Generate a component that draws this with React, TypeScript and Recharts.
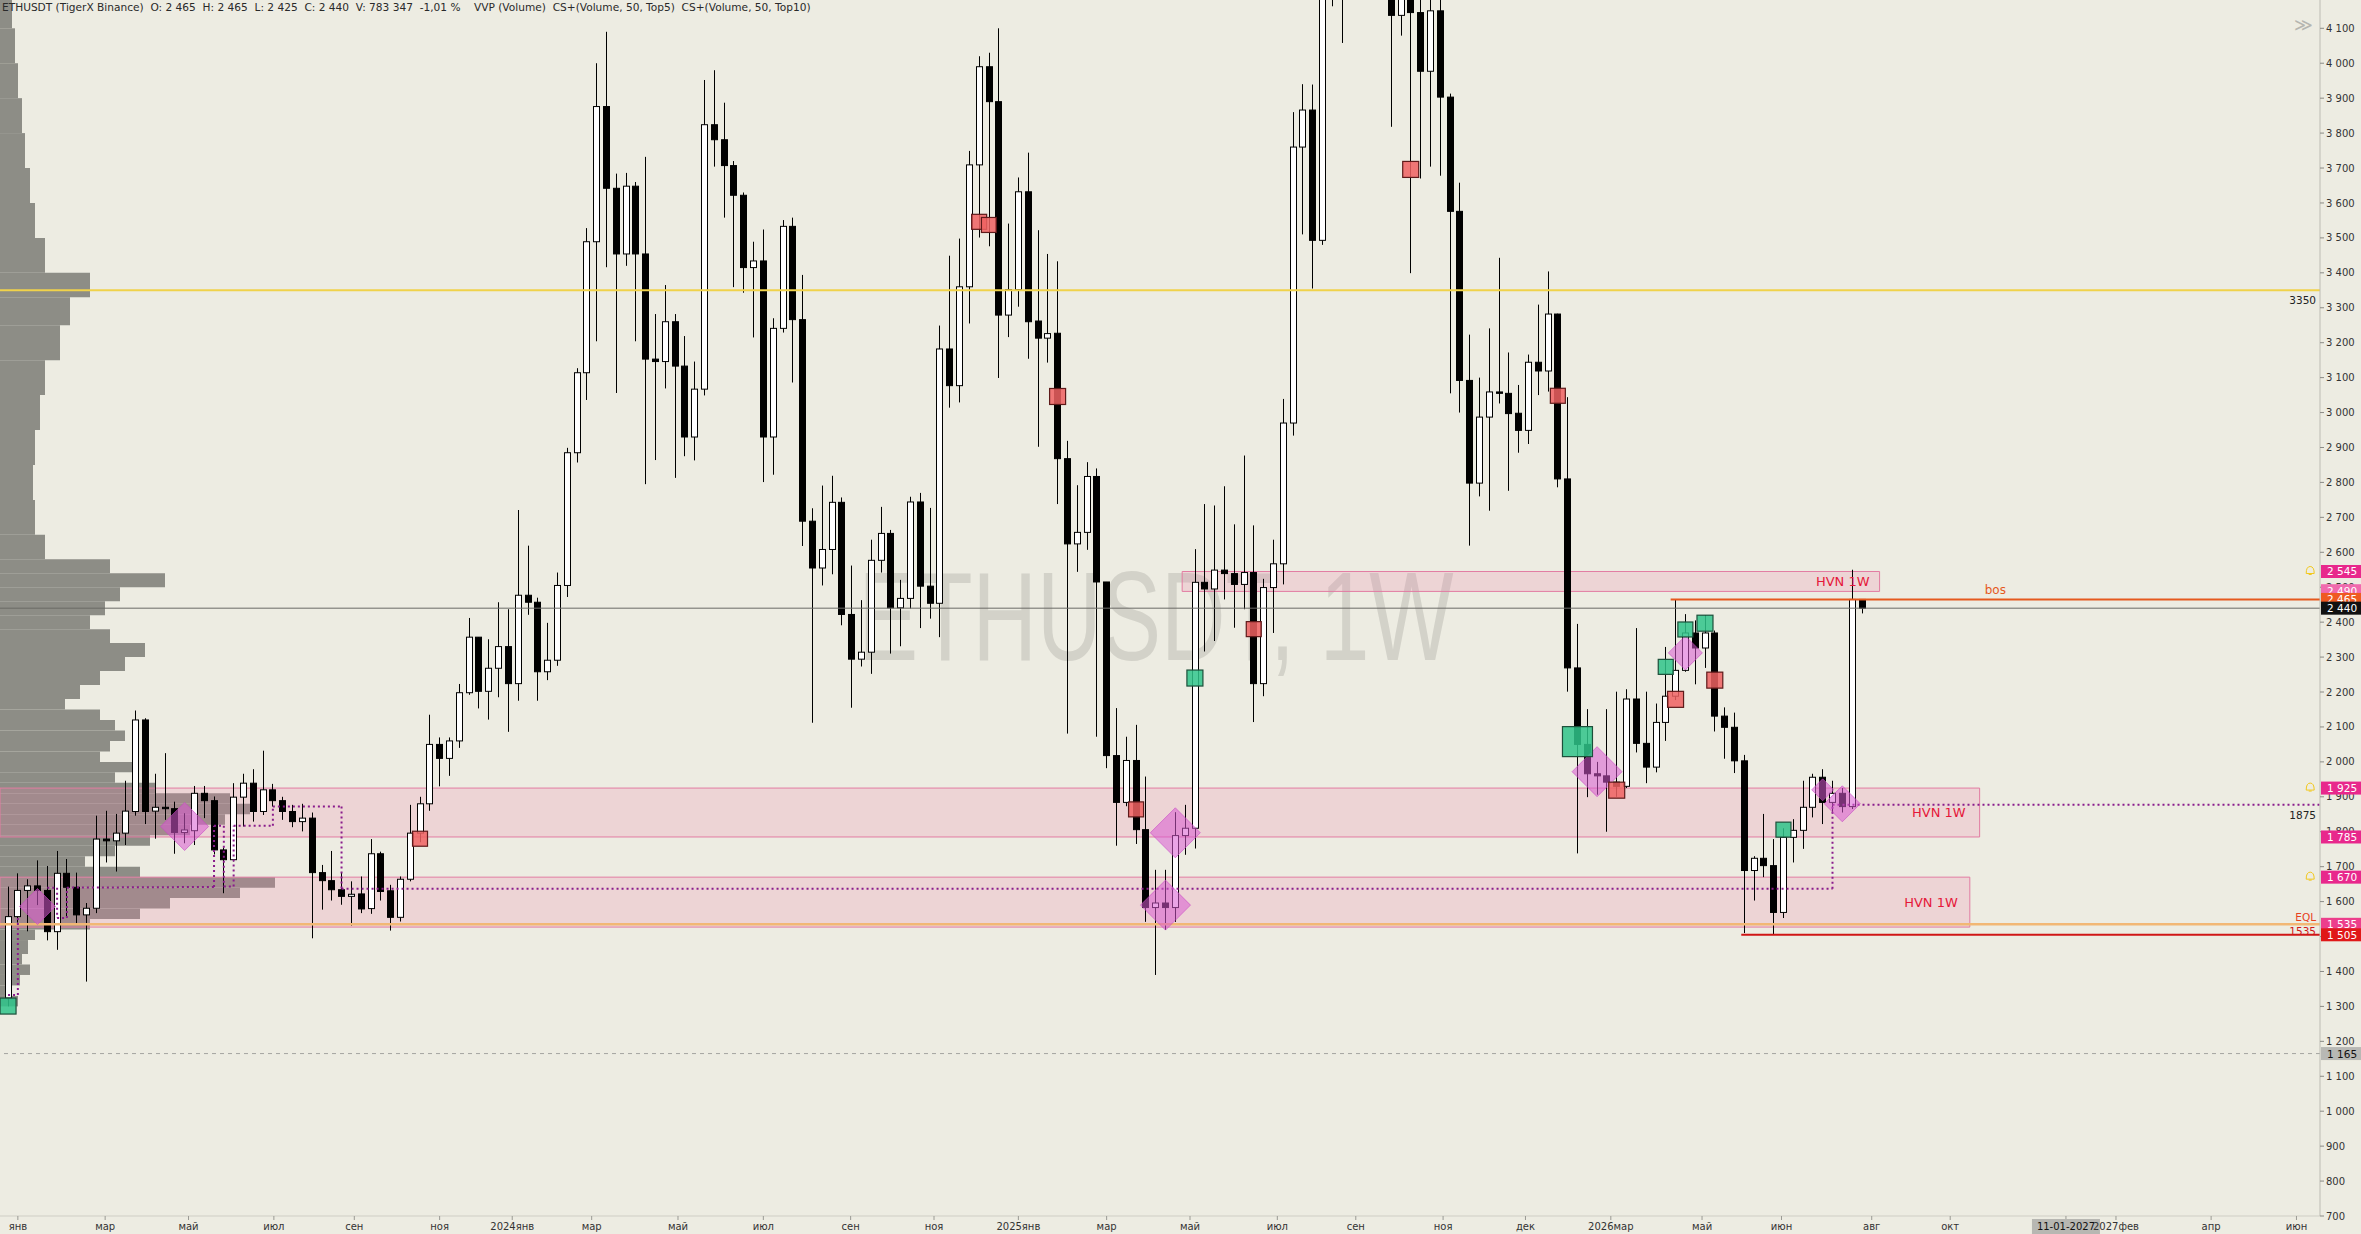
import React from "react";
import {
  ComposedChart,
  Bar,
  Scatter,
  XAxis,
  YAxis,
  ReferenceArea,
  ReferenceLine,
  ReferenceDot,
} from "recharts";

// weekly bars [open, high, low, close], first bar = week of 9 Jan 2023
const bars2023 = [
  [1324, 1643, 1300, 1557], [1557, 1681, 1540, 1632], [1632, 1664, 1515, 1645], [1645, 1718, 1590, 1632],
  [1632, 1702, 1489, 1514], [1514, 1745, 1462, 1681], [1681, 1722, 1553, 1641], [1641, 1683, 1538, 1562],
  [1562, 1596, 1371, 1581], [1581, 1846, 1567, 1779], [1779, 1860, 1712, 1774], [1774, 1851, 1686, 1796],
  [1796, 1946, 1762, 1859], [1858, 2147, 1846, 2120], [2120, 2125, 1822, 1858], [1859, 1966, 1780, 1870],
  [1870, 2025, 1834, 1866], [1866, 1886, 1737, 1798], [1798, 1853, 1767, 1805], [1803, 1931, 1762, 1910],
  [1910, 1931, 1839, 1889], [1889, 1901, 1735, 1748], [1748, 1755, 1624, 1720], [1720, 1939, 1715, 1899],
  [1899, 1966, 1815, 1939], [1939, 1979, 1829, 1858], [1858, 2032, 1848, 1920], [1920, 1937, 1872, 1889],
  [1889, 1900, 1834, 1858], [1858, 1877, 1813, 1829], [1829, 1880, 1801, 1839], [1839, 1855, 1495, 1683],
  [1683, 1705, 1577, 1660], [1660, 1745, 1603, 1634], [1634, 1683, 1591, 1615], [1615, 1658, 1531, 1621],
  [1622, 1672, 1567, 1579], [1580, 1779, 1565, 1737], [1737, 1743, 1603, 1629], [1631, 1648, 1517, 1555],
  [1555, 1672, 1543, 1664], [1664, 1877, 1658, 1796], [1796, 1900, 1770, 1880], [1880, 2135, 1860, 2050],
  [2050, 2070, 1930, 2010], [2010, 2070, 1960, 2060], [2060, 2223, 2040, 2198], [2198, 2412, 2192, 2357],
  [2357, 2357, 2153, 2202], [2202, 2351, 2121, 2268], [2268, 2457, 2185, 2330],
];

const bars2024 = [
  [2330, 2437, 2086, 2224], [2224, 2721, 2175, 2477], [2477, 2619, 2421, 2457], [2457, 2470, 2175, 2258],
  [2258, 2398, 2234, 2291], [2291, 2542, 2275, 2505], [2505, 2899, 2472, 2885], [2885, 3127, 2857, 3114],
  [3114, 3528, 3036, 3489], [3489, 4000, 3204, 3876], [3876, 4090, 3416, 3642], [3642, 3684, 3056, 3454],
  [3454, 3686, 3420, 3648], [3648, 3660, 3204, 3454], [3454, 3732, 2795, 3153], [3153, 3282, 2864, 3146],
  [3146, 3365, 3069, 3260], [3260, 3282, 2813, 3133], [3133, 3219, 2875, 2930], [2930, 3146, 2863, 3067],
  [3067, 3952, 3049, 3824], [3824, 3980, 3704, 3781], [3781, 3887, 3558, 3707], [3707, 3720, 3359, 3622],
  [3622, 3630, 3343, 3415], [3415, 3489, 3215, 3434], [3434, 3524, 2801, 2930], [2930, 3270, 2822, 3241],
  [3241, 3551, 3229, 3533], [3533, 3558, 3086, 3266], [3266, 3394, 2618, 2689], [2689, 2726, 2112, 2555],
  [2555, 2791, 2505, 2608], [2608, 2819, 2537, 2743], [2743, 2757, 2391, 2422], [2422, 2562, 2155, 2294],
  [2294, 2463, 2273, 2314], [2314, 2636, 2252, 2577], [2577, 2730, 2542, 2654], [2654, 2664, 2310, 2441],
  [2441, 2521, 2331, 2468], [2468, 2759, 2439, 2744], [2744, 2770, 2383, 2503], [2503, 2727, 2410, 2454],
  [2454, 3249, 2357, 3182], [3182, 3449, 3014, 3077], [3077, 3498, 3029, 3360], [3360, 3749, 3255, 3709],
  [3709, 4020, 3501, 3990], [3990, 4030, 3476, 3890], [3890, 4100, 3099, 3279], [3279, 3541, 3216, 3352],
];

const bars2025 = [
  [3352, 3673, 3303, 3632], [3632, 3744, 3154, 3260], [3262, 3522, 2902, 3213], [3213, 3454, 3143, 3226],
  [3227, 3433, 2738, 2868], [2868, 2919, 2081, 2624], [2624, 2792, 2544, 2657], [2657, 2858, 2607, 2817],
  [2817, 2840, 2072, 2515], [2515, 2515, 1982, 2018], [2018, 2154, 1760, 1884], [1884, 2072, 1873, 2004],
  [2004, 2106, 1765, 1806], [1806, 1958, 1542, 1583], [1583, 1691, 1390, 1596], [1596, 1691, 1519, 1583],
  [1583, 1856, 1542, 1789], [1789, 1877, 1734, 1810], [1810, 2609, 1752, 2514], [2514, 2738, 2316, 2495],
  [2495, 2734, 2346, 2549], [2549, 2789, 2465, 2539], [2539, 2680, 2384, 2508], [2508, 2877, 2437, 2542],
  [2542, 2677, 2114, 2224], [2224, 2524, 2188, 2499], [2499, 2636, 2369, 2567], [2567, 3039, 2508, 2970],
  [2970, 3860, 2934, 3760], [3760, 3940, 3510, 3866], [3866, 3939, 3355, 3493], [3493, 4330, 3480, 4290],
  [4290, 4790, 4163, 4480], [4480, 4955, 4058, 4780], [4780, 4800, 4270, 4390], [4390, 4490, 4210, 4300],
  [4300, 4770, 4250, 4600], [4600, 4770, 4400, 4470], [4470, 4500, 3818, 4137], [4137, 4560, 4079, 4520],
  [4520, 4750, 3399, 4145], [4145, 4290, 3670, 3977], [3977, 4250, 3704, 4150], [4150, 4250, 3678, 3903],
  [3903, 3913, 3055, 3576], [3576, 3658, 3000, 3092], [3092, 3223, 2619, 2798], [2798, 3100, 2760, 2987],
  [2987, 3241, 2719, 3059], [3059, 3443, 3026, 3055], [3055, 3172, 2776, 2997], [2998, 3079, 2885, 2949],
];

const bars2026 = [
  [2949, 3166, 2910, 3144], [3144, 3309, 3050, 3119], [3119, 3404, 3060, 3282], [3282, 3283, 2786, 2810],
  [2810, 3044, 2201, 2269], [2269, 2395, 1738, 2050], [2050, 2151, 1899, 1966], [1966, 2000, 1906, 1960],
  [1960, 2151, 1800, 1942], [1942, 2201, 1900, 1930], [1930, 2208, 1925, 2180], [2180, 2383, 2027, 2053],
  [2053, 2201, 1939, 1985], [1985, 2167, 1970, 2113], [2113, 2329, 2060, 2188], [2188, 2464, 2177, 2262],
  [2262, 2423, 2258, 2369], [2369, 2405, 2222, 2326], [2326, 2420, 2269, 2369], [2369, 2376, 2087, 2131],
  [2131, 2156, 2009, 2099], [2099, 2141, 1968, 2003], [2003, 2020, 1510, 1689], [1689, 1730, 1603, 1724],
  [1724, 1851, 1670, 1703], [1703, 1779, 1505, 1569], [1569, 1810, 1553, 1784], [1784, 1836, 1712, 1804],
  [1804, 1946, 1751, 1870], [1870, 1966, 1841, 1956], [1956, 1979, 1822, 1884], [1884, 1946, 1853, 1910],
  [1910, 1925, 1855, 1872], [1872, 2550, 1865, 2465], [2465, 2465, 2425, 2440],
];

// volume profile rows: bottom price of each row and its volume (arbitrary units)
const vpPrice = [
  1300, 1330, 1360, 1390, 1420, 1450, 1490, 1520, 1550, 1580, 1610, 1640, 1670, 1700, 1730, 1760,
  1790, 1820, 1850, 1880, 1910, 1940, 1970, 2000, 2030, 2060, 2090, 2120, 2150, 2180, 2220, 2260,
  2300, 2340, 2380, 2420, 2460, 2500, 2540, 2580, 2650, 2750, 2850, 2950, 3050, 3150, 3250, 3330,
  3400, 3500, 3600, 3700, 3800, 3900, 4000, 4100,
];
const vpVolume = [
  18, 10, 20, 30, 22, 28, 35, 90, 140, 170, 240, 275, 140, 85, 115, 150,
  190, 225, 250, 230, 155, 115, 135, 100, 110, 125, 115, 100, 65, 80, 100, 125,
  145, 110, 90, 105, 120, 165, 110, 45, 35, 33, 35, 40, 45, 60, 70, 90,
  45, 35, 30, 25, 22, 18, 15, 12,
];

const greenMarks = [
  { i: 0, p: 1301, s: 16 }, { i: 121, p: 2240, s: 16 }, { i: 160, p: 2058, s: 30 }, { i: 169, p: 2272, s: 15 },
  { i: 171, p: 2379, s: 15 }, { i: 173, p: 2397, s: 16 }, { i: 181, p: 1806, s: 15 },
];
const redMarks = [
  { i: 42, p: 1780, s: 15 }, { i: 99, p: 3546, s: 15 }, { i: 100, p: 3537, s: 15 }, { i: 107, p: 3046, s: 16 },
  { i: 115, p: 1864, s: 15 }, { i: 127, p: 2380, s: 15 }, { i: 143, p: 3696, s: 16 }, { i: 158, p: 3048, s: 15 },
  { i: 164, p: 1919, s: 16 }, { i: 170, p: 2179, s: 16 }, { i: 174, p: 2234, s: 16 },
];
const diamonds = [
  { i: 3, p: 1586, s: 18 }, { i: 18, p: 1815, s: 24 }, { i: 118, p: 1590, s: 25 }, { i: 119, p: 1797, s: 25 },
  { i: 162, p: 1972, s: 25 }, { i: 171, p: 2312, s: 17 }, { i: 185, p: 1920, s: 11 }, { i: 187, p: 1880, s: 18 },
];

// stepped dotted line [x1, y1, x2, y2] in (bar index, price)
const dotPath = [
  [0, 1333, 1, 1333], [1, 1333, 1, 1557], [4, 1640, 5, 1640], [5, 1640, 5, 1553], [5, 1553, 6, 1553],
  [6, 1553, 6, 1640], [6, 1640, 21, 1642], [21, 1642, 21, 1817], [21, 1817, 22, 1817], [22, 1817, 22, 1643],
  [22, 1643, 23, 1643], [23, 1643, 23, 1817], [23, 1817, 27, 1817], [27, 1817, 27, 1872], [27, 1872, 34, 1872],
  [34, 1872, 34, 1637], [34, 1637, 186, 1637], [186, 1637, 186, 1877], [186, 1877, 235.7, 1877],
];

const priceTicks = [700, 800, 900, 1000, 1100, 1200, 1300, 1400, 1500, 1600, 1700, 1800, 1900, 2000, 2100, 2200, 2300, 2400, 2500, 2600, 2700, 2800, 2900, 3000, 3100, 3200, 3300, 3400, 3500, 3600, 3700, 3800, 3900, 4000, 4100];
const timeTickPos = [1.0, 9.9, 18.4, 27.1, 35.3, 44.0, 51.4, 59.5, 68.3, 77.0, 85.9, 94.4, 103.0, 112.0, 120.5, 129.4, 137.4, 146.3, 154.7, 163.4, 172.7, 180.8, 190.0, 198.0, 209.8, 214.9, 224.6, 233.3];
const timeTickText = ["янв", "мар", "май", "июл", "сен", "ноя", "2024янв", "мар", "май", "июл", "сен", "ноя", "2025янв", "мар", "май", "июл", "сен", "ноя", "дек", "2026мар", "май", "июн", "авг", "окт", "11-01-2027", "2027фев", "апр", "июн"];

const axisTags = [
  { p: 2545, text: "2 545", bg: "#E8288C", fg: "#fff" },
  { p: 2490, text: "2 490", bg: "#F06AAE", fg: "#fff" },
  { p: 2465, text: "2 465", bg: "#EF5A22", fg: "#fff" },
  { p: 2440, text: "2 440", bg: "#111111", fg: "#fff" },
  { p: 1925, text: "1 925", bg: "#E8288C", fg: "#fff" },
  { p: 1785, text: "1 785", bg: "#E8288C", fg: "#fff" },
  { p: 1670, text: "1 670", bg: "#E8288C", fg: "#fff" },
  { p: 1535, text: "1 535", bg: "#EC3F8C", fg: "#fff" },
  { p: 1505, text: "1 505", bg: "#E01818", fg: "#fff" },
  { p: 1165, text: "1 165", bg: "#B8B8B4", fg: "#111" },
];
const alerts = [2545, 1925, 1670];

const candles = [...bars2023, ...bars2024, ...bars2025, ...bars2026].map((b, i) => ({ i, o: b[0], h: b[1], l: b[2], c: b[3] }));

const BG = "#EDECE2";
const FONT = "'DejaVu Sans', sans-serif";
const X_MIN = -0.82;
const X_MAX = 235.7;
// profile length: volume units -> bar-index units
const VP_UNIT = (X_MAX - X_MIN) / 2320;
const profile = vpPrice.map((p, k) => ({ lo: p, hi: k + 1 < vpPrice.length ? vpPrice[k + 1] : 4181, v: vpVolume[k] }));

const fmt = (v: number) => (v >= 1000 ? `${Math.floor(v / 1000)} ${String(v % 1000).padStart(3, "0")}` : `${v}`);

const Candle = (props: any) => {
  const { x, y, width, height, payload } = props;
  if (x == null || y == null) return null;
  const { o, h, l, c } = payload;
  const top = Math.min(y, y + height);
  const bot = Math.max(y, y + height);
  const span = h - l || 1;
  const py = (v: number) => top + ((h - v) / span) * (bot - top);
  const cx = Math.round(x + width / 2) + 0.5;
  const up = c >= o;
  const bt = py(Math.max(o, c));
  const bb = py(Math.min(o, c));
  return (
    <g>
      <line x1={cx} x2={cx} y1={top} y2={bot} stroke="#000" strokeWidth={1} />
      <rect x={cx - 3} y={bt} width={6} height={Math.max(bb - bt, 1)} fill={up ? "#fff" : "#000"} stroke="#000" strokeWidth={1} />
    </g>
  );
};

const Square = (color: string, edge: string) => (props: any) => {
  const { cx, cy, payload } = props;
  const s = payload.s;
  return <rect x={cx - s / 2} y={cy - s / 2} width={s} height={s} fill={color} fillOpacity={0.85} stroke={edge} strokeWidth={1.2} />;
};

const Diamond = (props: any) => {
  const { cx, cy, payload } = props;
  const s = payload.s;
  return (
    <polygon
      points={`${cx},${cy - s} ${cx + s},${cy} ${cx},${cy + s} ${cx - s},${cy}`}
      fill="#D85AD2"
      fillOpacity={0.55}
      stroke="#C848C4"
      strokeOpacity={0.6}
    />
  );
};

const TimeTick = (props: any) => {
  const { x, y, payload } = props;
  let k = 0;
  timeTickPos.forEach((t, j) => {
    if (Math.abs(t - payload.value) < Math.abs(timeTickPos[k] - payload.value)) k = j;
  });
  const t = timeTickText[k];
  if (t === "11-01-2027") {
    return (
      <g>
        <rect x={x - 34} y={y - 3} width={68} height={15} fill="#B7B7B2" />
        <text x={x} y={y + 8} textAnchor="middle" fontSize={10} fill="#111" fontFamily={FONT}>{t}</text>
      </g>
    );
  }
  return <text x={x} y={y + 8} textAnchor="middle" fontSize={10} fill="#333" fontFamily={FONT}>{t}</text>;
};

const tagLabel = (text: string, bg: string, fg: string) => (props: any) => {
  const vb = props.viewBox;
  const x = vb.x + vb.width + 1;
  return (
    <g>
      <rect x={x} y={vb.y - 6.5} width={40} height={13} fill={bg} />
      <text x={x + 6} y={vb.y + 4} fontSize={10.5} fill={fg} fontFamily={FONT}>{text}</text>
    </g>
  );
};

const rightText = (text: string, color: string, dy: number) => (props: any) => {
  const vb = props.viewBox;
  return (
    <text x={vb.x + vb.width - 4} y={vb.y + dy} textAnchor="end" fontSize={10.5} fill={color} fontFamily={FONT}>{text}</text>
  );
};

const bell = (props: any) => {
  const { cx, cy } = props;
  return (
    <path
      d={`M${cx - 4},${cy + 2} Q${cx - 4},${cy - 5} ${cx},${cy - 5} Q${cx + 4},${cy - 5} ${cx + 4},${cy + 2} Z M${cx - 1.5},${cy + 3} L${cx + 1.5},${cy + 3}`}
      fill="none"
      stroke="#F2C81C"
      strokeWidth={1}
    />
  );
};

const chartProps = { width: 2361, height: 1234, margin: { top: 0, right: 0, bottom: 0, left: 0 } };

export default function App() {
  return (
    <div style={{ position: "absolute", left: 0, top: 0, width: 2361, height: 1234, background: BG, overflow: "hidden", fontFamily: FONT }}>
      <svg style={{ position: "absolute", left: 0, top: 0 }} width={2320} height={1216}>
        <text x={1156} y={660} fontSize={127} fill="#D3D2C9" textAnchor="middle" textLength={595} lengthAdjust="spacingAndGlyphs" fontFamily="'Liberation Sans', sans-serif">
          ETHUSDT, 1W
        </text>
      </svg>
      <div style={{ position: "absolute", left: 0, top: 0 }}>
        <ComposedChart {...chartProps} data={candles}>
          <XAxis
            xAxisId="t"
            dataKey="i"
            type="number"
            domain={[X_MIN, X_MAX]}
            allowDataOverflow
            ticks={timeTickPos}
            interval={0}
            height={18}
            tickSize={4}
            tick={<TimeTick />}
            tickLine={{ stroke: "#9A9A94" }}
            axisLine={{ stroke: "#CFCEC5" }}
          />
          <YAxis
            yAxisId="p"
            orientation="right"
            width={41}
            domain={[700, 4181]}
            allowDataOverflow
            ticks={priceTicks}
            interval={0}
            tickFormatter={fmt}
            tickSize={4}
            tick={{ fontSize: 10, fill: "#333", fontFamily: FONT }}
            tickLine={{ stroke: "#8A8A85" }}
            axisLine={{ stroke: "#BDBCB4" }}
          />

          {profile.map((r) => (
            <ReferenceArea key={`vp${r.lo}`} xAxisId="t" yAxisId="p" x1={X_MIN} x2={X_MIN + r.v * VP_UNIT} y1={r.lo} y2={r.hi} fill="#8D8D86" fillOpacity={1} stroke="none" />
          ))}

          <ReferenceLine xAxisId="t" yAxisId="p" y={3350} stroke="#F0D24A" strokeWidth={2} label={rightText("3350", "#222", 14)} />
          <ReferenceLine xAxisId="t" yAxisId="p" y={1165} stroke="#A5A5A0" strokeDasharray="4 4" strokeWidth={1} />
          <ReferenceLine xAxisId="t" yAxisId="p" y={2440} stroke="#6A6A66" strokeWidth={1} />

          <Bar xAxisId="t" yAxisId="p" dataKey={(d: any) => [d.l, d.h]} barSize={7} shape={<Candle />} isAnimationActive={false} />

          <ReferenceArea xAxisId="t" yAxisId="p" x1={X_MIN} x2={201} y1={1785} y2={1925} fill="#EE7FA7" fillOpacity={0.22} stroke="#E27CA2" strokeWidth={1}
            label={{ value: "HVN 1W", position: "insideRight", offset: 14, fill: "#E5183A", fontSize: 13, fontFamily: FONT }} />
          <ReferenceArea xAxisId="t" yAxisId="p" x1={X_MIN} x2={200} y1={1527} y2={1670} fill="#EE7FA7" fillOpacity={0.22} stroke="#E27CA2" strokeWidth={1}
            label={{ value: "HVN 1W", position: "insideRight", offset: 12, fill: "#E5183A", fontSize: 13, fontFamily: FONT }} />
          <ReferenceArea xAxisId="t" yAxisId="p" x1={119.7} x2={190.8} y1={2488} y2={2545} fill="#EE7FA7" fillOpacity={0.22} stroke="#E27CA2" strokeWidth={1}
            label={{ value: "HVN 1W", position: "insideRight", offset: 10, fill: "#E5183A", fontSize: 13, fontFamily: FONT }} />

          <ReferenceLine xAxisId="t" yAxisId="p" y={1535} stroke="#F2B774" strokeWidth={2.5} />
          <ReferenceLine xAxisId="t" yAxisId="p" segment={[{ x: 176.7, y: 1505 }, { x: X_MAX, y: 1505 }]} stroke="#D01616" strokeWidth={2} />
          <ReferenceLine xAxisId="t" yAxisId="p" segment={[{ x: 169.5, y: 2465 }, { x: X_MAX, y: 2465 }]} stroke="#E5591E" strokeWidth={2}
            label={{ value: "bos", position: "top", offset: 5, fill: "#E5591E", fontSize: 12, fontFamily: FONT }} />

          {dotPath.map((s, k) => (
            <ReferenceLine key={`dp${k}`} xAxisId="t" yAxisId="p" segment={[{ x: s[0], y: s[1] }, { x: s[2], y: s[3] }]}
              stroke="#8A1C8C" strokeWidth={2} strokeDasharray="2 3" />
          ))}

          <Scatter xAxisId="t" yAxisId="p" data={diamonds} dataKey="p" shape={Diamond} isAnimationActive={false} />
          <Scatter xAxisId="t" yAxisId="p" data={greenMarks} dataKey="p" shape={Square("#2FC48A", "#1D4F3A")} isAnimationActive={false} />
          <Scatter xAxisId="t" yAxisId="p" data={redMarks} dataKey="p" shape={Square("#EE6262", "#5E1A1A")} isAnimationActive={false} />
        </ComposedChart>
      </div>

      {/* overlay: right-edge labels and price tags drawn above the axis text */}
      <div style={{ position: "absolute", left: 0, top: 0 }}>
        <ComposedChart {...chartProps} data={candles}>
          <XAxis xAxisId="t" dataKey="i" type="number" domain={[X_MIN, X_MAX]} allowDataOverflow height={18} tick={false} tickLine={false} axisLine={false} />
          <YAxis yAxisId="p" orientation="right" width={41} domain={[700, 4181]} allowDataOverflow tick={false} tickLine={false} axisLine={false} />
          <ReferenceLine xAxisId="t" yAxisId="p" y={1877} stroke="none" label={rightText("1875", "#222", 14)} />
          <ReferenceLine xAxisId="t" yAxisId="p" y={1535} stroke="none" label={rightText("EQL", "#E8401C", -3)} />
          <ReferenceLine xAxisId="t" yAxisId="p" y={1505} stroke="none" label={rightText("1535", "#D01616", 0)} />
          {alerts.map((p) => (
            <ReferenceDot key={`al${p}`} xAxisId="t" yAxisId="p" x={234.7} y={p} r={0} shape={bell} />
          ))}
          {axisTags.map((t) => (
            <ReferenceLine key={`tg${t.p}`} xAxisId="t" yAxisId="p" y={t.p} stroke="none" label={tagLabel(t.text, t.bg, t.fg)} />
          ))}
        </ComposedChart>
      </div>

      <div style={{ position: "absolute", left: 2, top: 1, fontSize: 10.6, color: "#2A2A2A", whiteSpace: "pre", fontFamily: FONT }}>
        {"ETHUSDT (TigerX Binance)  O: 2 465  H: 2 465  L: 2 425  C: 2 440  V: 783 347  -1,01 %    VVP (Volume)  CS+(Volume, 50, Top5)  CS+(Volume, 50, Top10)"}
      </div>
      <div style={{ position: "absolute", left: 2294, top: 14, fontSize: 18, color: "#B5B5B0", fontFamily: FONT }}>≫</div>
    </div>
  );
}
